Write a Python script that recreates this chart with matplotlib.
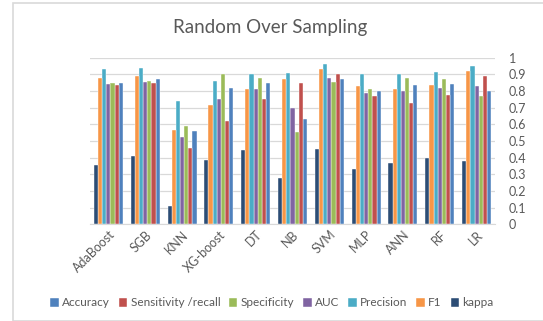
import numpy as np
import matplotlib
matplotlib.use("Agg")
import matplotlib.pyplot as plt
from matplotlib.patches import Rectangle

models = ['AdaBoost', 'SGB', 'KNN', 'XG-boost', 'DT', 'NB', 'SVM', 'MLP', 'ANN', 'RF', 'LR']

accuracy    = [0.85, 0.875, 0.56, 0.82, 0.85, 0.635, 0.87, 0.80, 0.835, 0.84, 0.80]
sensitivity = [0.835, 0.85, 0.46, 0.62, 0.75, 0.85, 0.90, 0.77, 0.73, 0.775, 0.89]
specificity = [0.85, 0.86, 0.59, 0.90, 0.88, 0.555, 0.855, 0.81, 0.88, 0.87, 0.77]
auc         = [0.84, 0.855, 0.525, 0.755, 0.815, 0.70, 0.88, 0.79, 0.80, 0.82, 0.83]
precision   = [0.935, 0.94, 0.74, 0.86, 0.90, 0.91, 0.96, 0.90, 0.90, 0.915, 0.95]
f1          = [0.88, 0.89, 0.565, 0.715, 0.815, 0.875, 0.935, 0.83, 0.81, 0.835, 0.92]
kappa       = [0.355, 0.41, 0.11, 0.385, 0.445, 0.28, 0.45, 0.33, 0.365, 0.40, 0.38]

series_names = ['Accuracy', 'Sensitivity /recall', 'Specificity', 'AUC', 'Precision', 'F1', 'kappa']
series_vals = [accuracy, sensitivity, specificity, auc, precision, f1, kappa]
colors = ['#4F81BD', '#C0504D', '#9BBB59', '#8064A2', '#4BACC6', '#F79646', '#2C4D75']

plt.rcParams['font.family'] = ['Lato', 'DejaVu Sans']

W, H = 543, 321
fig = plt.figure(figsize=(W / 100, H / 100), dpi=100)

# outer chart frame
fig.patches.append(Rectangle((13 / W, 0), 1.0, 1 - 3 / H, transform=fig.transFigure,
                             fill=False, edgecolor='#D9D9D9', linewidth=1.2))

ax = fig.add_axes([90 / W, 1 - 224.3 / H, 405 / W, 166.6 / H])

x = np.arange(len(models))
n = len(series_vals)
bw = 0.79 / n
# bars are drawn in reverse legend order (kappa first)
handles = []
for i, (name, vals, c) in enumerate(zip(series_names, series_vals, colors)):
    pos = n - 1 - i
    b = ax.bar(x - 0.395 + bw * (pos + 0.5), vals, bw, color=c, label=name,
               edgecolor='white', linewidth=0.3, zorder=3)
    handles.append(b)

ax.set_xlim(-0.5, len(models) - 0.5)
ax.set_ylim(0, 1)
ax.set_yticks(np.arange(0, 1.01, 0.1))
ax.set_yticklabels(['0'] + ['%.1f' % v for v in np.arange(0.1, 0.95, 0.1)] + ['1'])
ax.yaxis.tick_right()
ax.grid(axis='y', color='#D9D9D9', linewidth=0.9, zorder=0)
for s in ['top', 'left', 'right']:
    ax.spines[s].set_visible(False)
ax.spines['bottom'].set_color('#D9D9D9')
ax.tick_params(axis='y', length=0, labelsize=9, labelcolor='#595959', pad=10)
ax.tick_params(axis='x', length=0, labelsize=9, labelcolor='#595959', pad=3)
ax.set_xticks(x)
ax.set_xticklabels(models, rotation=45, ha='right', rotation_mode='anchor')

fig.text(270 / W, 1 - 27 / H, 'Random Over Sampling', ha='center', va='center',
         fontsize=13.5, color='#595959')

fig.legend(handles=handles, labels=series_names, loc='center', ncol=7,
           bbox_to_anchor=(272 / W, 1 - 303 / H), frameon=False, fontsize=8.5,
           labelcolor='#595959', handlelength=0.7, handleheight=0.7,
           handletextpad=0.3, columnspacing=0.75)

fig.savefig('out.png', dpi=100)
